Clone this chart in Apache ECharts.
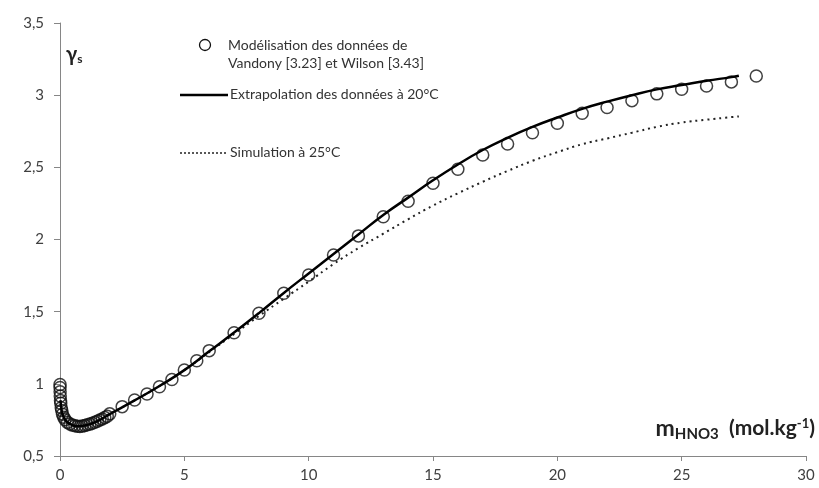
<!DOCTYPE html>
<html>
<head>
<meta charset="utf-8">
<script src="https://cdn.jsdelivr.net/npm/echarts@6/dist/echarts.min.js"></script>
<style>
html,body{margin:0;padding:0;background:#fff;}
#chart{width:819px;height:488px;}
</style>
</head>
<body>
<div id="chart"></div>
<script>
// Modélisation des données (circles)
var modelX = [0.001,0.002,0.005,0.01,0.02,0.03,0.05,0.07,0.1,0.15,0.2,0.3,0.4,0.5,0.6,0.7,0.8,0.9,1.0,1.1,1.2,1.3,1.4,1.5,1.6,1.7,1.8,1.9,2.0,2.5,3.0,3.5,4.0,4.5,5.0,5.5,6,7,8,9,10,11,12,13,14,15,16,17,18,19,20,21,22,23,24,25,26,27,28];
var modelY = [0.995,0.975,0.945,0.915,0.885,0.865,0.835,0.815,0.79,0.768,0.752,0.733,0.722,0.714,0.709,0.706,0.705,0.707,0.711,0.716,0.721,0.727,0.734,0.741,0.749,0.757,0.766,0.776,0.792,0.842,0.888,0.93,0.98,1.03,1.096,1.16,1.23,1.354,1.489,1.627,1.754,1.893,2.025,2.158,2.265,2.39,2.487,2.586,2.662,2.74,2.806,2.875,2.915,2.962,3.009,3.041,3.064,3.092,3.133];
// Extrapolation des données à 20°C (solid line)
var extrapX = [0.02,0.05,0.1,0.2,0.3,0.5,0.7,1,1.5,2,3,4,5,6,7,8,9,10,11,12,13,14,15,16,17,18,19,20,21,22,23,24,25,26,27,27.3];
var extrapY = [0.885,0.835,0.79,0.752,0.733,0.714,0.706,0.711,0.741,0.79,0.885,0.985,1.095,1.225,1.355,1.49,1.63,1.765,1.9,2.035,2.17,2.29,2.41,2.52,2.62,2.705,2.78,2.845,2.905,2.955,3.0,3.04,3.07,3.1,3.125,3.135];
// Simulation à 25°C (dotted line)
var simX = [0.02,0.05,0.1,0.2,0.3,0.5,0.7,1,1.5,2,3,4,5,6,7,8,9,10,11,12,13,14,15,16,17,18,19,20,21,22,23,24,25,26,27,27.3];
var simY = [0.885,0.835,0.79,0.752,0.733,0.714,0.706,0.711,0.741,0.79,0.885,0.985,1.095,1.22,1.345,1.47,1.59,1.708,1.83,1.94,2.04,2.14,2.235,2.32,2.4,2.475,2.545,2.605,2.66,2.7,2.74,2.78,2.81,2.83,2.848,2.853];
var xTicks = {min:0, max:30, interval:5};
var yTicks = {min:0.5, max:3.5, interval:0.5};

function pairs(xs, ys){ return xs.map(function(x,i){ return [x, ys[i]]; }); }

var chart = echarts.init(document.getElementById('chart'), null, {renderer:'canvas'});
var font = 'Lato, "Open Sans", sans-serif';
var option = {
  animation:false,
  backgroundColor:'#fff',
  grid:{left:60, right:13, top:23, bottom:32, containLabel:false},
  xAxis:{
    type:'value', min:xTicks.min, max:xTicks.max, interval:xTicks.interval,
    axisLine:{lineStyle:{color:'#868686', width:1}},
    axisTick:{show:true, inside:false, length:5, lineStyle:{color:'#868686'}},
    splitLine:{show:false},
    axisLabel:{color:'#404040', fontSize:15, fontFamily:font, margin:12}
  },
  yAxis:{
    type:'value', min:yTicks.min, max:yTicks.max, interval:yTicks.interval,
    axisLine:{show:true, lineStyle:{color:'#868686', width:1}},
    axisTick:{show:true, inside:false, length:6, lineStyle:{color:'#868686'}},
    splitLine:{show:false},
    axisLabel:{color:'#404040', fontSize:15, fontFamily:font, margin:16,
      formatter:function(v){ return String(v).replace('.', ','); }}
  },
  series:[
    {name:'Modélisation', type:'scatter', data:pairs(modelX, modelY),
     symbol:'circle', symbolSize:12,
     itemStyle:{color:'rgba(0,0,0,0)', borderColor:'#111', borderWidth:1.5}, z:2},
    {name:'Extrapolation', type:'line', data:pairs(extrapX, extrapY),
     showSymbol:false, smooth:0.5,
     lineStyle:{color:'#000', width:2.5}, z:4},
    {name:'Simulation', type:'line', data:pairs(simX, simY),
     showSymbol:false, smooth:0.5,
     lineStyle:{color:'#222', width:2, type:[2,4]}, z:3}
  ],
  graphic:[
    {type:'circle', shape:{cx:205, cy:45, r:5.5}, style:{fill:'none', stroke:'#111', lineWidth:1.3}},
    {type:'text', left:228, top:36, style:{text:'Modélisation des données de\nVandony [3.23] et Wilson [3.43]', fill:'#333', font:'14px ' + font, lineHeight:18}},
    {type:'line', shape:{x1:180, y1:95, x2:228, y2:95}, style:{stroke:'#000', lineWidth:2.5}},
    {type:'text', left:230, top:87, style:{text:'Extrapolation des données à 20°C', fill:'#333', font:'14px ' + font}},
    {type:'line', shape:{x1:180, y1:153, x2:228, y2:153}, style:{stroke:'#222', lineWidth:1.5, lineDash:[2,2]}},
    {type:'text', left:230, top:145, style:{text:'Simulation à 25°C', fill:'#333', font:'14px ' + font}},
    {type:'text', left:66, top:45, style:{
      text:'{g|γ}{s|s}',
      rich:{g:{fontSize:20, fontWeight:'bold', fontFamily:font, fill:'#222'},
            s:{fontSize:12, fontWeight:'bold', fontFamily:font, fill:'#222', padding:[8,0,0,0]}}}},
    {type:'text', right:4, top:417, style:{
      text:'{m|m}{sub|HNO3}{t|  (mol.kg}{sup|-1}{t|)}',
      rich:{m:{fontSize:23, fontWeight:'bold', fontFamily:font, fill:'#222'},
            sub:{fontSize:15, fontWeight:'bold', fontFamily:font, fill:'#222', padding:[11,0,0,0]},
            t:{fontSize:21, fontWeight:'bold', fontFamily:font, fill:'#222'},
            sup:{fontSize:13, fontWeight:'bold', fontFamily:font, fill:'#222', padding:[0,0,10,0]}}}}
  ]
};
chart.setOption(option);
</script>
</body>
</html>
